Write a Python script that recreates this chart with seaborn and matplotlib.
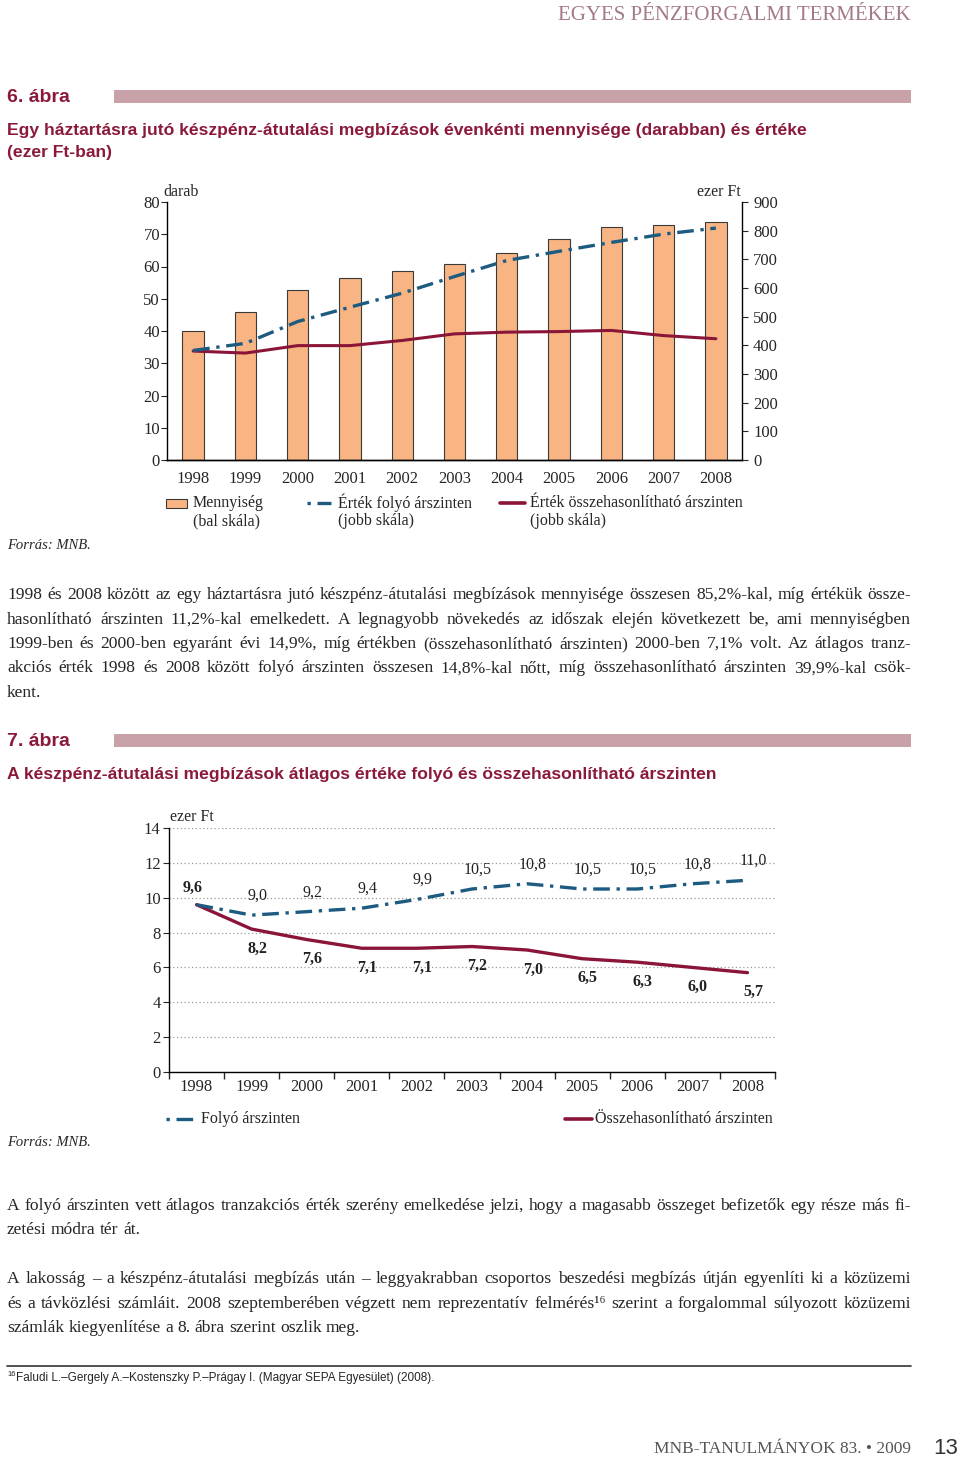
import numpy as np
import matplotlib
matplotlib.use("Agg")
import matplotlib.pyplot as plt
from matplotlib.patches import Rectangle
from matplotlib.lines import Line2D
import seaborn as sns

# data
years = ["1998", "1999", "2000", "2001", "2002", "2003", "2004", "2005", "2006", "2007", "2008"]
mennyiseg = [39.9, 45.8, 52.8, 56.3, 58.7, 60.8, 64.3, 68.6, 72.2, 72.8, 73.9]
ertek_folyo = [382, 407, 483, 533, 582, 640, 696, 728, 759, 788, 809]
ertek_osszeh = [380, 373, 399, 399, 417, 440, 446, 448, 452, 434, 423]

atlag_folyo = [9.6, 9.0, 9.2, 9.4, 9.9, 10.5, 10.8, 10.5, 10.5, 10.8, 11.0]
atlag_osszeh = [9.6, 8.2, 7.6, 7.1, 7.1, 7.2, 7.0, 6.5, 6.3, 6.0, 5.7]

sns.set_style("white")
SERIF = ["Liberation Serif", "DejaVu Serif"]
NARROW = ["Liberation Sans Narrow", "Liberation Sans", "DejaVu Sans"]
plt.rcParams["font.family"] = SERIF
plt.rcParams["axes.unicode_minus"] = False

W, H = 960, 1458
MAROON = "#8b1a3a"
BAND = "#c9a1a9"
BLUE = "#1d5b80"
RED = "#8a1538"
ORANGE = "#f8b583"
TICK = 12
BODY = 12.6

fig = plt.figure(figsize=(W / 100, H / 100), dpi=100)
fig.patch.set_facecolor("white")


def fx(x):
    return x / W


def fy(y):
    return 1 - y / H


def txt(x, y, s, **kw):
    kw.setdefault("va", "center")
    kw.setdefault("family", SERIF)
    return fig.text(fx(x), fy(y), s, **kw)


def band(y):
    fig.add_artist(Rectangle((fx(114), fy(y + 6)), fx(911 - 114), 13 / H,
                             transform=fig.transFigure, color=BAND, lw=0))


renderer = fig.canvas.get_renderer()


def justify(line, y, size=BODY, last=False, x0=7, x1=911):
    words = line.split(" ")
    objs = [txt(0, y, w, fontsize=size, ha="left") for w in words]
    widths = [o.get_window_extent(renderer).width for o in objs]
    if last or len(words) == 1:
        gap = size * 1.389 * 0.25
    else:
        gap = (x1 - x0 - sum(widths)) / (len(words) - 1)
    x = x0
    for o, w in zip(objs, widths):
        o.set_x(fx(x))
        x += w + gap


# header
txt(911, 15, "EGYES PÉNZFORGALMI TERMÉKEK", fontsize=15, ha="right", color="#a47a86")

# ---- 6. abra
txt(7, 97, "6. ábra", fontsize=14, weight="bold", family=NARROW, color=MAROON)
band(97)
txt(7, 130, "Egy háztartásra jutó készpénz-átutalási megbízások évenkénti mennyisége (darabban) és értéke",
    fontsize=12.6, weight="bold", family=NARROW, color=MAROON)
txt(7, 153, "(ezer Ft-ban)", fontsize=12.6, weight="bold", family=NARROW, color=MAROON)

ax1 = fig.add_axes([fx(167), fy(460), fx(742 - 167), 258 / H])
sns.barplot(x=years, y=mennyiseg, ax=ax1, color=ORANGE, edgecolor="#3a3a3a",
            linewidth=0.8, width=0.41, saturation=1)
ax1.set_xlim(-0.5, 10.5)
ax1.set_ylim(0, 80)
ax1.set_yticks(range(0, 81, 10))
ax1.set_xlabel("")
ax1.set_ylabel("")
ax2 = ax1.twinx()
pos = np.arange(len(years))
sns.lineplot(x=pos, y=ertek_osszeh, ax=ax2, color=RED, lw=2.2)
sns.lineplot(x=pos, y=ertek_folyo, ax=ax2, color=BLUE, lw=2.4, linestyle=(0, (5, 2, 1, 2)))
ax2.set_ylim(0, 900)
ax2.set_yticks(range(0, 901, 100))
ax2.set_ylabel("")

for a in (ax1, ax2):
    a.spines["top"].set_visible(False)
    for s in a.spines.values():
        s.set_color("black")
        s.set_linewidth(1.0)
ax1.spines["right"].set_visible(False)
ax2.spines["left"].set_visible(False)
ax1.set_xticks(np.arange(-0.5, 11, 1), minor=True)
ax1.tick_params(axis="x", which="major", length=0, labelsize=TICK, pad=8)
ax1.tick_params(axis="x", which="minor", length=5, direction="out", width=1)
ax1.tick_params(axis="y", length=4, direction="out", labelsize=TICK, pad=1, left=True)
ax2.tick_params(axis="y", length=4, direction="out", labelsize=TICK, pad=4, right=True)
txt(163, 192, "darab", fontsize=11.5)
txt(741, 192, "ezer Ft", fontsize=11.5, ha="right")

# legend 6. abra
fig.add_artist(Rectangle((fx(166), fy(508)), fx(21), 9 / H, transform=fig.transFigure,
                         facecolor=ORANGE, edgecolor="#3a3a3a", lw=0.8))
txt(193, 503, "Mennyiség", fontsize=11.5)
txt(193, 521, "(bal skála)", fontsize=11.5)
fig.add_artist(Line2D([fx(307), fx(331)], [fy(503), fy(503)], transform=fig.transFigure,
                      color=BLUE, lw=2.4, linestyle=(0, (1, 2, 5, 2))))
txt(338, 503, "Érték folyó árszinten", fontsize=11.5)
txt(338, 521, "(jobb skála)", fontsize=11.5)
fig.add_artist(Line2D([fx(500), fx(525)], [fy(503), fy(503)], transform=fig.transFigure,
                      color=RED, lw=2.6))
txt(530, 503, "Érték összehasonlítható árszinten", fontsize=11.5)
txt(530, 521, "(jobb skála)", fontsize=11.5)
txt(7, 546, "Forrás: MNB.", fontsize=10.5, style="italic")

# paragraph 1
p1 = ["1998 és 2008 között az egy háztartásra jutó készpénz-átutalási megbízások mennyisége összesen 85,2%-kal, míg értékük össze-",
      "hasonlítható árszinten 11,2%-kal emelkedett. A legnagyobb növekedés az időszak elején következett be, ami mennyiségben",
      "1999-ben és 2000-ben egyaránt évi 14,9%, míg értékben (összehasonlítható árszinten) 2000-ben 7,1% volt. Az átlagos tranz-",
      "akciós érték 1998 és 2008 között folyó árszinten összesen 14,8%-kal nőtt, míg összehasonlítható árszinten 39,9%-kal csök-",
      "kent."]
for i, line in enumerate(p1):
    justify(line, 595 + i * 24.5, last=(i == len(p1) - 1))

# ---- 7. abra
txt(7, 741, "7. ábra", fontsize=14, weight="bold", family=NARROW, color=MAROON)
band(741)
txt(7, 774, "A készpénz-átutalási megbízások átlagos értéke folyó és összehasonlítható árszinten",
    fontsize=12.6, weight="bold", family=NARROW, color=MAROON)

ax3 = fig.add_axes([fx(169), fy(1072), fx(606), 244 / H])
sns.lineplot(x=pos, y=atlag_osszeh, ax=ax3, color=RED, lw=2.4)
sns.lineplot(x=pos, y=atlag_folyo, ax=ax3, color=BLUE, lw=2.4, linestyle=(0, (5, 2, 1, 2)))
ax3.set_xlim(-0.5, 10.5)
ax3.set_ylim(0, 14)
ax3.set_yticks(range(0, 15, 2))
ax3.set_xticks(pos)
ax3.set_xticklabels(years, family=SERIF)
ax3.set_xticks(np.arange(-0.5, 11, 1), minor=True)
ax3.yaxis.grid(True, linestyle=(0, (1, 2)), color="#9a9a9a", lw=0.9)
ax3.set_axisbelow(True)
for s in ("top", "right"):
    ax3.spines[s].set_visible(False)
for s in ("left", "bottom"):
    ax3.spines[s].set_color("black")
    ax3.spines[s].set_linewidth(1.0)
ax3.tick_params(axis="x", which="major", length=0, labelsize=TICK, pad=5)
ax3.tick_params(axis="x", which="minor", length=5, direction="out", width=1, bottom=True)
ax3.tick_params(axis="y", length=4, direction="out", labelsize=TICK, pad=2, left=True)
ax3.set_ylabel("")

for i, v in enumerate(atlag_folyo):
    lab = f"{v:.1f}".replace(".", ",")
    if i == 0:
        continue
    ax3.annotate(lab, (i, v), xytext=(4, 14), textcoords="offset points",
                 ha="center", va="center", fontsize=11.5, color="#222222")
for i, v in enumerate(atlag_osszeh):
    lab = f"{v:.1f}".replace(".", ",")
    off = (-3, 12) if i == 0 else (4, -14)
    ax3.annotate(lab, (i, v), xytext=off, textcoords="offset points",
                 ha="center", va="center", fontsize=11.5, weight="bold", color="#222222")
txt(170, 817, "ezer Ft", fontsize=11.5)

# legend 7. abra
fig.add_artist(Line2D([fx(166), fx(196)], [fy(1119), fy(1119)], transform=fig.transFigure,
                      color=BLUE, lw=2.4, linestyle=(0, (1, 2, 5, 2))))
txt(201, 1119, "Folyó árszinten", fontsize=11.5)
fig.add_artist(Line2D([fx(565), fx(592)], [fy(1119), fy(1119)], transform=fig.transFigure,
                      color=RED, lw=2.6))
txt(595, 1119, "Összehasonlítható árszinten", fontsize=11.5)
txt(7, 1143, "Forrás: MNB.", fontsize=10.5, style="italic")

# paragraphs 2 and 3
p2 = ["A folyó árszinten vett átlagos tranzakciós érték szerény emelkedése jelzi, hogy a magasabb összeget befizetők egy része más fi-",
      "zetési módra tér át."]
for i, line in enumerate(p2):
    justify(line, 1206 + i * 24.5, last=(i == len(p2) - 1))
p3 = ["A lakosság – a készpénz-átutalási megbízás után – leggyakrabban csoportos beszedési megbízás útján egyenlíti ki a közüzemi",
      "és a távközlési számláit. 2008 szeptemberében végzett nem reprezentatív felmérés¹⁶ szerint a forgalommal súlyozott közüzemi",
      "számlák kiegyenlítése a 8. ábra szerint oszlik meg."]
for i, line in enumerate(p3):
    justify(line, 1279 + i * 24.5, last=(i == len(p3) - 1))

# footnote
fig.add_artist(Line2D([fx(7), fx(911)], [fy(1366), fy(1366)], transform=fig.transFigure,
                      color="#333333", lw=1.2))
txt(7, 1375, "16", fontsize=5.5, family=NARROW)
txt(16, 1378, "Faludi L.–Gergely A.–Kostenszky P.–Prágay I. (Magyar SEPA Egyesület) (2008).",
    fontsize=8.5, family=NARROW)

# footer
txt(911, 1449, "MNB-TANULMÁNYOK 83. • 2009", fontsize=12.5, ha="right", color="#555555")
txt(958, 1448, "13", fontsize=16, ha="right", family=NARROW, color="#333333")

fig.savefig("out.png", dpi=100)
